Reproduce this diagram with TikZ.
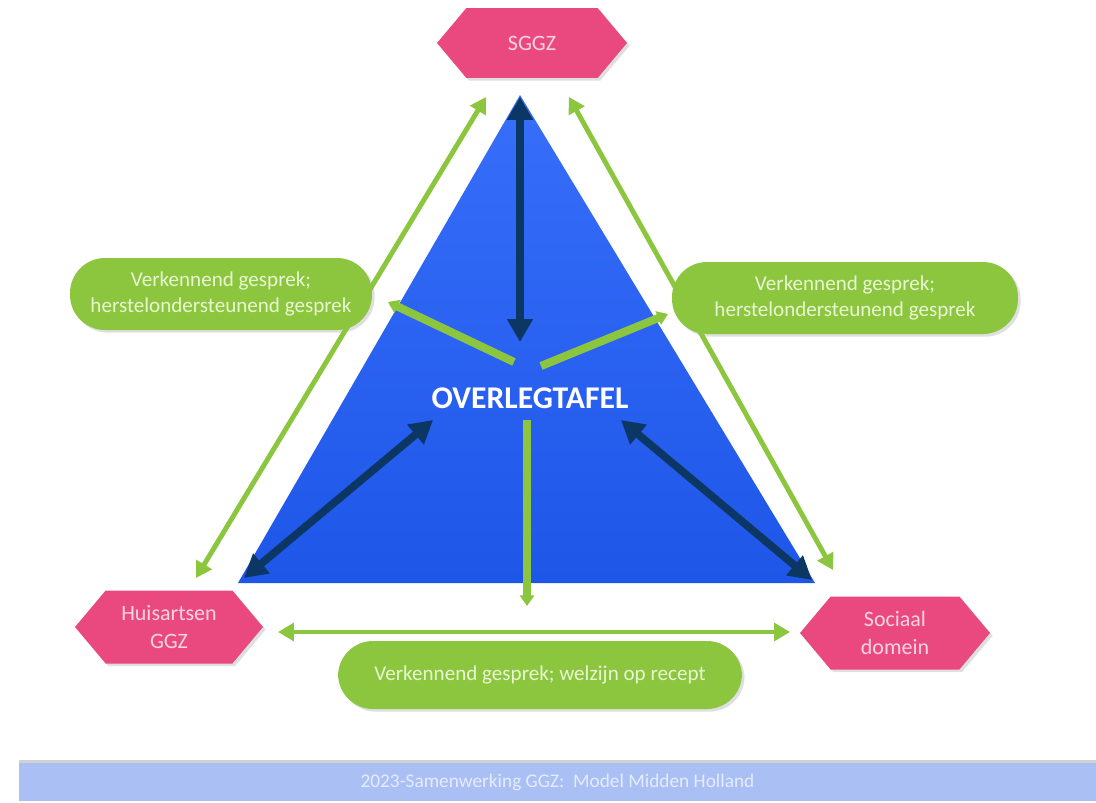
\documentclass[tikz,border=0pt]{standalone}
\usepackage{fontspec}
\setmainfont{Carlito}
\usepackage{tikz}
\usetikzlibrary{positioning, arrows.meta, calc, shapes.symbols, shadows}

\definecolor{hexpink}{RGB}{233,73,127}
\definecolor{hextext}{RGB}{250,212,226}
\definecolor{talkgreen}{RGB}{140,198,63}
\definecolor{talktext}{RGB}{232,246,210}
\definecolor{tableblue}{RGB}{30,86,232}
\definecolor{tabletop}{RGB}{55,110,250}
\definecolor{navy}{RGB}{12,55,100}
\definecolor{footblue}{RGB}{170,192,245}
\definecolor{foottext}{RGB}{228,236,255}

\tikzset{
    partner/.style={signal, signal to=west and east, signal pointer angle=100,
        fill=hexpink, text=hextext, align=center, inner sep=1pt,
        font=\fontsize{12.5}{15.5}\selectfont,
        drop shadow={opacity=0.25, shadow xshift=1.5pt, shadow yshift=-1.5pt}},
    talk/.style={rectangle, rounded corners=0.7cm, fill=talkgreen, text=talktext,
        align=center, inner sep=2pt, font=\fontsize{12}{15}\selectfont,
        drop shadow={opacity=0.25, shadow xshift=1.5pt, shadow yshift=-1.5pt}},
    outerlink/.style={talkgreen, line width=2.8pt,
        {Triangle[length=9pt, width=10pt]}-{Triangle[length=9pt, width=10pt]}},
    innerlink/.style={talkgreen, line width=4.6pt,
        -{Triangle[length=6pt, width=8pt]}},
    tablelink/.style={navy, line width=4.4pt,
        {Triangle[length=13pt, width=14pt]}-{Triangle[length=13pt, width=14pt]}}
}

\def\tikpoints{%
    % triangle corners
    \coordinate (t1) at (520,95);
    \coordinate (t2) at (238,583);
    \coordinate (t3) at (815,583);

    % green links along the sides
    \coordinate (g1) at (486,97);
    \coordinate (g2) at (196,578);
    \coordinate (g3) at (569,97);
    \coordinate (g4) at (833,570);
    \coordinate (g5) at (278,632);
    \coordinate (g6) at (790,632);

    % green links from the table
    \coordinate (c1) at (514,362);
    \coordinate (c2) at (388,302);
    \coordinate (c3) at (541,366);
    \coordinate (c4) at (668,314);
    \coordinate (c5) at (527,420);
    \coordinate (c6) at (527,606);

    % dark links inside the triangle
    \coordinate (d1) at (520,97);
    \coordinate (d2) at (520,342);
    \coordinate (d3) at (244,578);
    \coordinate (d4) at (433,420);
    \coordinate (d5) at (812,580);
    \coordinate (d6) at (621,420);
}

\begin{document}
\begin{tikzpicture}[x=0.02cm, y=-0.02cm]
    \useasboundingbox (0,0) rectangle (1096,802);
    \fill[white] (0,0) rectangle (1096,802);
    \tikpoints

    % footer bar
    \fill[black!18] (19,760) rectangle (1096,764);
    \node[fill=footblue, minimum width=21.54cm, minimum height=0.76cm, inner sep=0pt,
        text=foottext, font=\fontsize{11}{13}\selectfont] (footer) at (557.5,782)
        {2023-Samenwerking GGZ:\ \ Model Midden Holland};

    % the table
    \shade[top color=tabletop, bottom color=tableblue] (t1) -- (t3) -- (t2) -- cycle;
    \node[text=white, font=\fontsize{18}{21}\selectfont\bfseries] (table) at (530,398) {OVERLEGTAFEL};

    % partners
    \node[partner, minimum width=3.8cm, minimum height=1.4cm] (sggz) at (532,43) {SGGZ};
    \node[partner, minimum width=3.76cm, minimum height=1.46cm] (huisarts) at (169,627) {Huisartsen\\GGZ};
    \node[partner, minimum width=3.8cm, minimum height=1.46cm] (sociaal) at (895,633) {Sociaal\\domein};

    % conversations
    \node[talk, minimum width=6.04cm, minimum height=1.44cm] (talkleft) at (221,294)
        {Verkennend gesprek;\\herstelondersteunend gesprek};
    \node[talk, minimum width=6.92cm, minimum height=1.44cm] (talkright) at (845,298)
        {Verkennend gesprek;\\herstelondersteunend gesprek};
    \node[talk, minimum width=8.08cm, minimum height=1.36cm] (talkbottom) at (540,675)
        {Verkennend gesprek; welzijn op recept};

    % draw links
    \foreach \a/\b in {g1/g2, g3/g4, g5/g6}
    {
        \draw[outerlink] (\a) -- (\b);
    }
    \foreach \a/\b in {c1/c2, c3/c4, c5/c6}
    {
        \draw[innerlink] (\a) -- (\b);
    }
    \foreach \a/\b in {d1/d2, d3/d4, d5/d6}
    {
        \draw[tablelink] (\a) -- (\b);
    }
\end{tikzpicture}
\end{document}
